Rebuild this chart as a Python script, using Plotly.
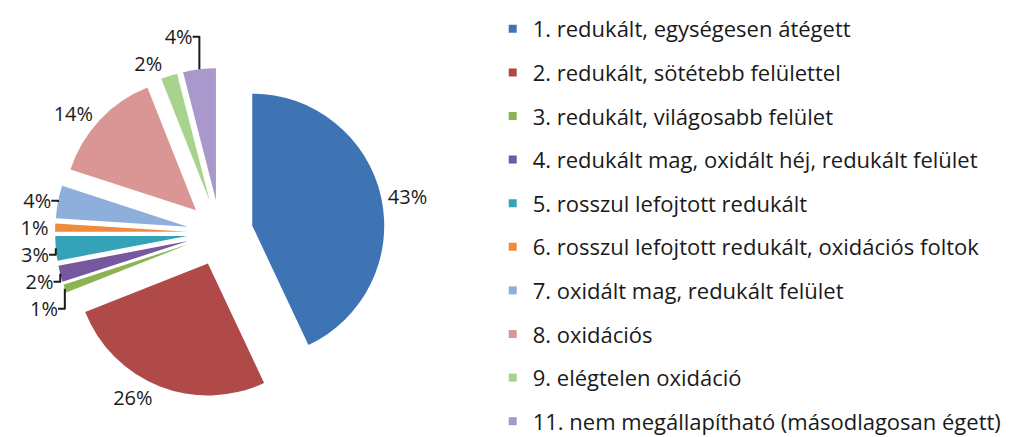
import plotly.graph_objects as go

labels = [
    "1. redukált, egységesen átégett",
    "2. redukált, sötétebb felülettel",
    "3. redukált, világosabb felület",
    "4. redukált mag, oxidált héj, redukált felület",
    "5. rosszul lefojtott redukált",
    "6. rosszul lefojtott redukált, oxidációs foltok",
    "7. oxidált mag, redukált felület",
    "8. oxidációs",
    "9. elégtelen oxidáció",
    "11. nem megállapítható (másodlagosan égett)",
]
values = [43, 26, 1, 2, 3, 1, 4, 14, 2, 4]
colors = ["#3f74b4", "#b04a48", "#8db452", "#7558a0", "#34a3b8",
          "#f08a3c", "#8eaedb", "#d99694", "#a8d38c", "#a898cc"]

fig = go.Figure()
fig.add_trace(go.Pie(
    labels=labels, values=values, sort=False, direction="clockwise",
    rotation=0, pull=[0.25] * len(values),
    marker=dict(colors=colors, line=dict(width=0)),
    texttemplate="%{value}%", textposition="outside",
    textfont=dict(family="Open Sans", size=20, color="#1a1a1a"),
    showlegend=False,
    domain=dict(x=[0.046, 0.371], y=[0.108, 0.863]),
    hoverinfo="label+percent",
))

for lab, col in zip(labels, colors):
    fig.add_trace(go.Scatter(
        x=[None], y=[None], mode="markers", name=lab, legendgroup=lab,
        marker=dict(symbol="square", size=8, color=col),
    ))

fig.update_layout(
    width=1017, height=437,
    margin=dict(l=0, r=0, t=0, b=0, autoexpand=False),
    paper_bgcolor="white", plot_bgcolor="white",
    xaxis=dict(visible=False), yaxis=dict(visible=False),
    legend=dict(
        x=0.4766, y=1.0, xanchor="left", yanchor="top",
        font=dict(family="Open Sans", size=22, color="#1a1a1a"),
        tracegroupgap=12, itemclick=False, itemdoubleclick=False,
    ),
    showlegend=True,
)

fig.write_html("out.html")
